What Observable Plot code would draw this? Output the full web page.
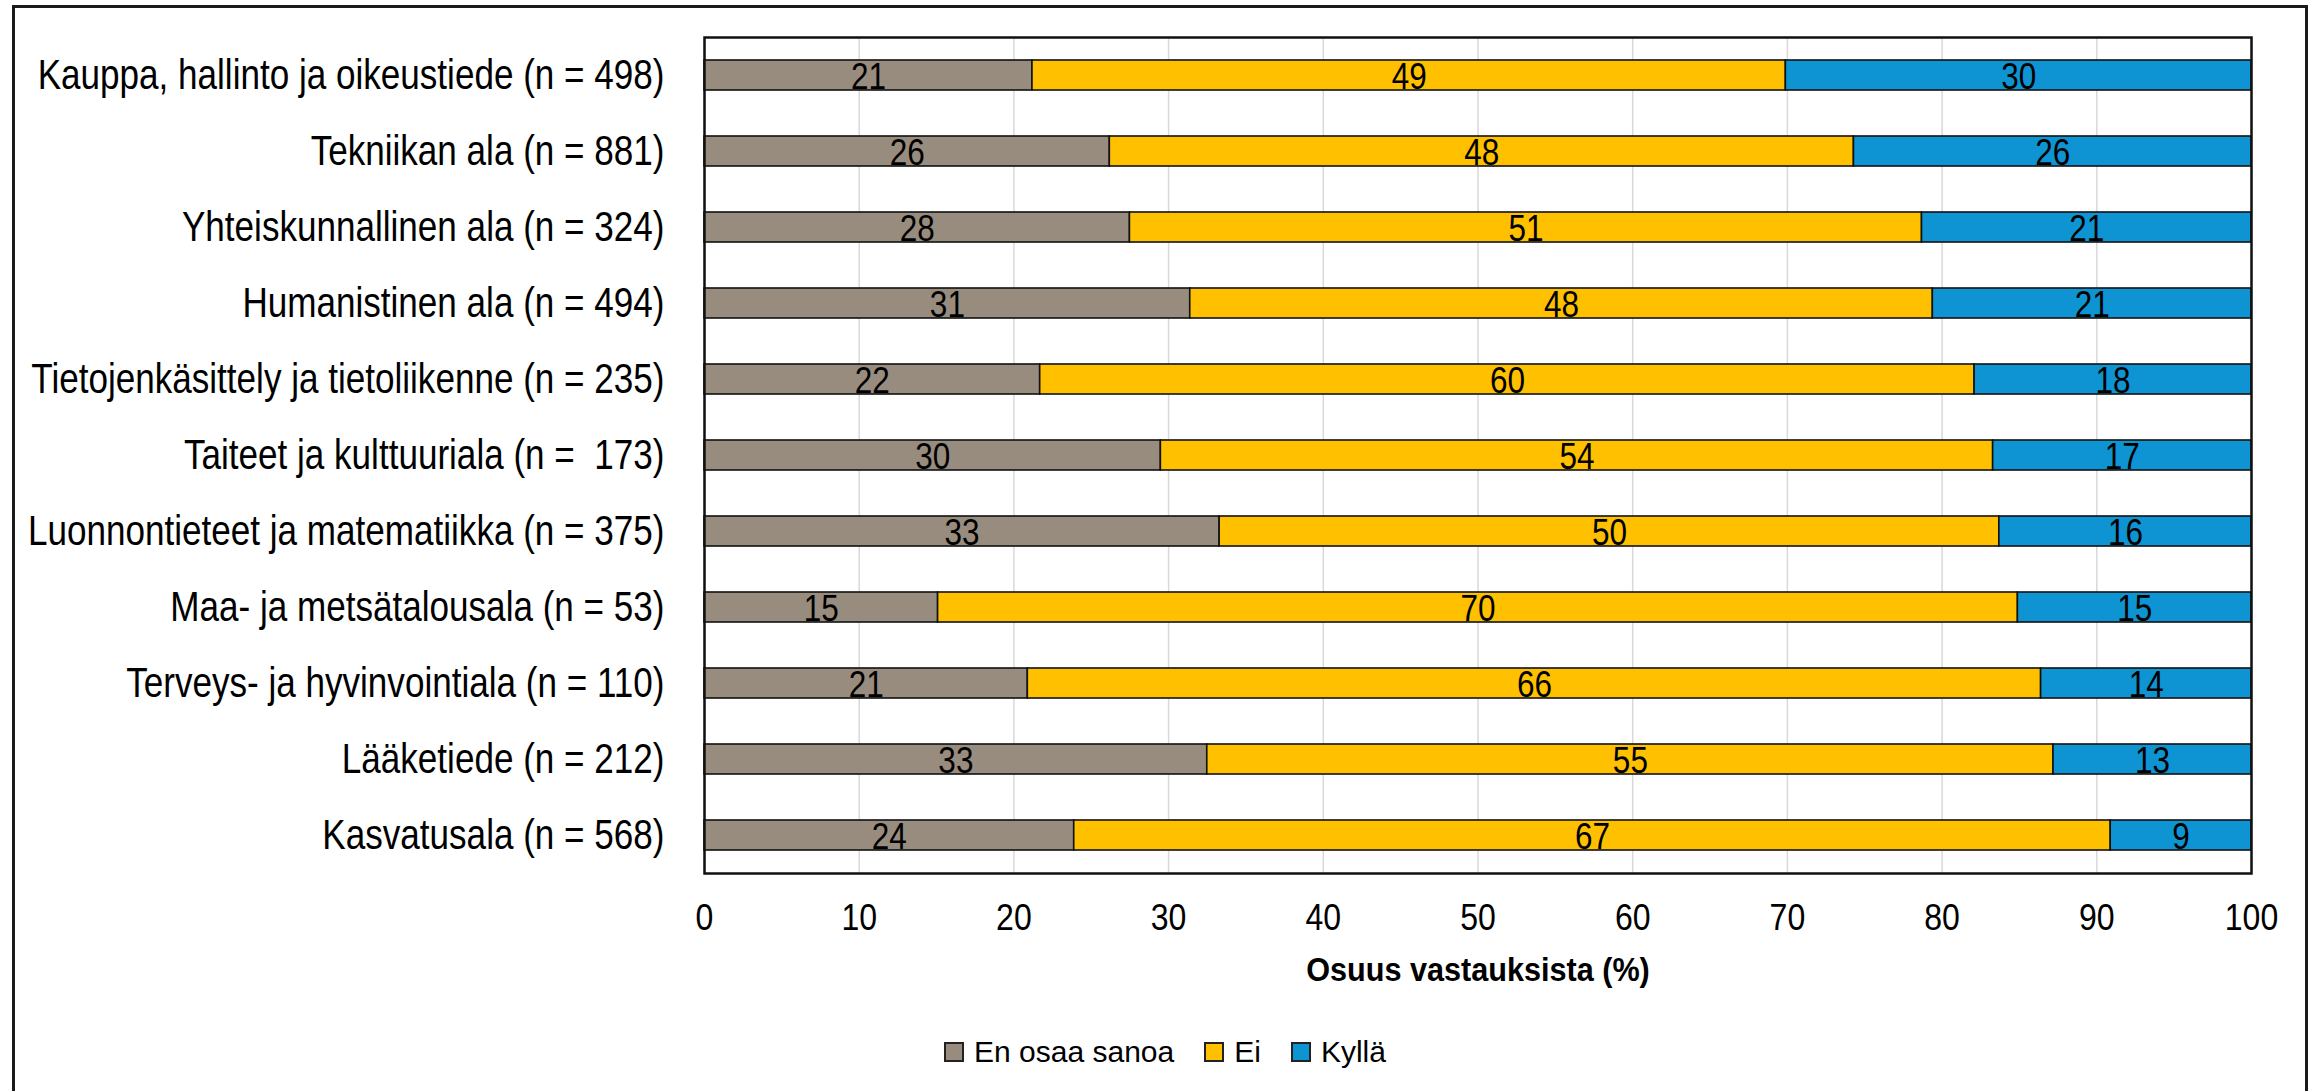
<!DOCTYPE html>
<html>
<head>
<meta charset="utf-8">
<script src="https://cdn.jsdelivr.net/npm/d3@7"></script>
<script src="https://cdn.jsdelivr.net/npm/@observablehq/plot@0.6"></script>
<style>
  html, body { margin: 0; padding: 0; background: #fff; }
  body { width: 2318px; height: 1091px; overflow: hidden; position: relative; font-family: "Liberation Sans", Arial, sans-serif; }
  #outer { position: absolute; left: 12px; top: 5px; width: 2296px; height: 1110px; border: 3px solid #1a1a1a; box-sizing: border-box; pointer-events: none; }
  #chart { position: absolute; left: 0; top: 0; }
  svg text { white-space: pre; }
  #legend { display: flex; justify-content: center; align-items: center; height: 60px; font-size: 30px; color: #000; padding-left: 12px; box-sizing: border-box; width: 2318px; }
  #legend .item { display: flex; align-items: center; margin: 0 15px; }
  #legend .sw { width: 16px; height: 16px; border: 2px solid #222; margin-right: 10px; display: inline-block; }
</style>
</head>
<body>
<div id="chart"></div>
<div id="outer"></div>
<script>
const categories = [
  "Kauppa, hallinto ja oikeustiede (n = 498)",
  "Tekniikan ala (n = 881)",
  "Yhteiskunnallinen ala (n = 324)",
  "Humanistinen ala (n = 494)",
  "Tietojenkäsittely ja tietoliikenne (n = 235)",
  "Taiteet ja kulttuuriala (n =  173)",
  "Luonnontieteet ja matematiikka (n = 375)",
  "Maa- ja metsätalousala (n = 53)",
  "Terveys- ja hyvinvointiala (n = 110)",
  "Lääketiede (n = 212)",
  "Kasvatusala (n = 568)"
];
const series = ["En osaa sanoa", "Ei", "Kyllä"];
const colors = ["#988C7F", "#FFC000", "#0E94D2"];
const enOsaaSanoa = [21.2, 26.2, 27.5, 31.4, 21.7, 29.5, 33.3, 15.1, 20.9, 32.5, 23.9];
const ei          = [48.7, 48.1, 51.2, 48.0, 60.4, 53.8, 50.4, 69.8, 65.5, 54.7, 67.0];
const kylla       = [30.1, 25.7, 21.3, 20.6, 17.9, 16.7, 16.3, 15.1, 13.6, 12.8, 9.1];
const xTicks = [0, 10, 20, 30, 40, 50, 60, 70, 80, 90, 100];
const xLabel = "Osuus vastauksista (%)";

const valuesBySeries = [enOsaaSanoa, ei, kylla];
const data = [];
categories.forEach((c, i) => {
  series.forEach((s, j) => {
    data.push({category: c, series: s, value: valuesBySeries[j][i], label: String(Math.round(valuesBySeries[j][i]))});
  });
});

const font = '"Liberation Sans", Arial, sans-serif';
const plot = Plot.plot({
  width: 2318,
  height: 1022,
  marginLeft: 704,
  marginRight: 67,
  marginTop: 37,
  marginBottom: 149,
  style: {fontFamily: font, fontSize: "32px", color: "#000", background: "transparent"},
  x: {domain: [0, 100], ticks: xTicks, tickSize: 0, tickPadding: 31, label: null, tickFormat: d => String(d)},
  y: {domain: categories, paddingInner: 0.6, paddingOuter: 0.3, tickSize: 0, tickPadding: 40, label: null},
  color: {domain: series, range: colors},
  marks: [
    Plot.ruleX(xTicks, {stroke: "#d9d9d9", strokeWidth: 1.5}),
    Plot.barX(data, Plot.stackX({x: "value", y: "category", fill: "series", z: "series", stroke: "#111", strokeWidth: 1.6})),
    Plot.text(data, Plot.stackX({x: "value", y: "category", z: "series", text: "label", fontSize: 37, fill: "#000", dy: 1})),
    Plot.frame({stroke: "#111", strokeWidth: 2.5}),
    Plot.text([xLabel], {frameAnchor: "bottom", dy: 97, text: d => d, fontSize: 34, fontWeight: "bold", fill: "#000", lineAnchor: "middle"})
  ]
});

const chart = document.getElementById("chart");
chart.appendChild(plot);

function condense(nodes, size, ratio) {
  nodes.forEach(t => {
    t.setAttribute("font-size", size);
    const L = t.getComputedTextLength();
    t.setAttribute("textLength", (L * ratio).toFixed(2));
    t.setAttribute("lengthAdjust", "spacingAndGlyphs");
  });
}
const svg = d3.select(plot);
condense(svg.selectAll('[aria-label="y-axis tick label"] text').nodes(), 42, 0.835);
condense(svg.selectAll('[aria-label="x-axis tick label"] text').nodes(), 36, 0.89);
const textGroups = svg.selectAll('g[aria-label="text"]').nodes();
if (textGroups[0]) condense(Array.from(textGroups[0].querySelectorAll("text")), 37.5, 0.84);
if (textGroups[1]) condense(Array.from(textGroups[1].querySelectorAll("text")), 34, 0.9);

const legend = d3.select(chart).append("div").attr("id", "legend");
series.forEach((s, i) => {
  const item = legend.append("div").attr("class", "item");
  item.append("span").attr("class", "sw").style("background", colors[i]);
  item.append("span").text(s);
});
</script>
</body>
</html>
